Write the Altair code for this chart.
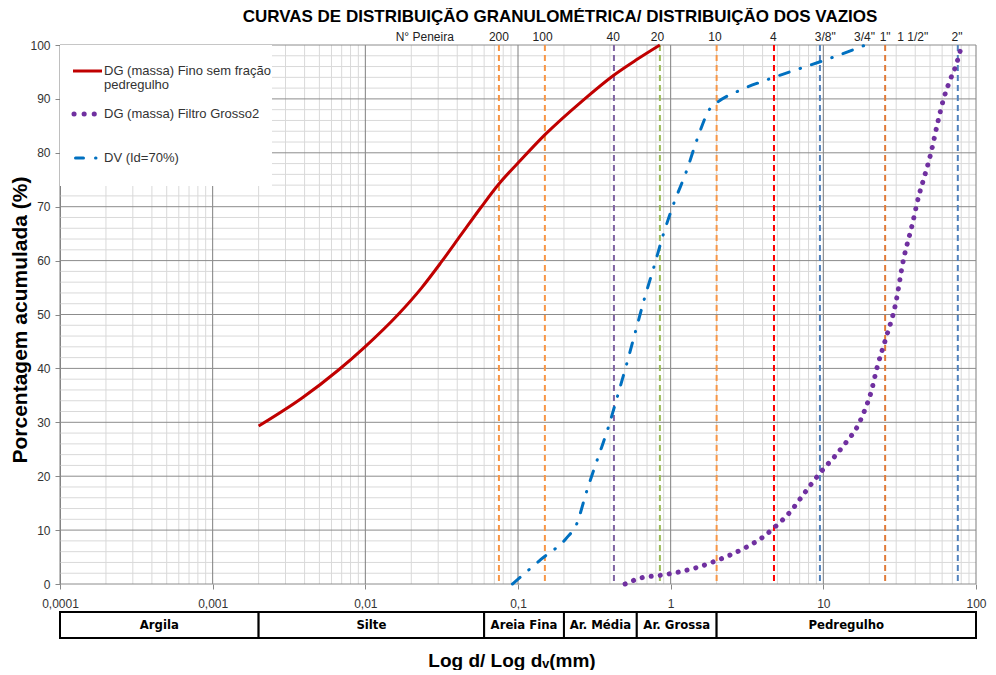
import altair as alt
import pandas as pd

# ---------------- data ----------------
red_d = [0.002, 0.00385, 0.00667, 0.00995, 0.0164, 0.0233, 0.0314, 0.0424, 0.0573,
         0.0754, 0.1, 0.152, 0.263, 0.424, 0.6, 0.85]
red_p = [29.3, 34.5, 39.7, 44.0, 50.0, 54.9, 59.7, 64.8, 69.9,
         74.3, 78.1, 83.5, 89.6, 94.4, 97.3, 100]

blue_d = [0.092, 0.142, 0.209, 0.242, 0.281, 0.330, 0.389, 0.449, 0.516, 0.589, 0.674,
          0.778, 0.896, 1.051, 1.27, 1.49, 1.8, 2.05, 2.79, 4.43, 7.13, 11.5, 18.9]
blue_p = [0, 4.6, 8.6, 11.1, 17.1, 23.0, 28.9, 34.9, 40.9, 46.9, 53.0,
          58.9, 64.9, 70.7, 76.6, 82.5, 88.1, 89.5, 91.5, 93.7, 95.7, 97.7, 100]

purple_d = [0.503, 0.654, 0.852, 1.12, 1.46, 1.90, 2.46, 3.16, 4.02, 4.91, 5.99, 7.10,
            8.42, 10.0, 11.9, 14.2, 16.7, 18.7, 20.5, 22.6, 25.5, 29.7, 33.4, 38.4,
            42.1, 45.4, 50.7, 55.5, 61.2, 67.0, 74.1, 80.7]
purple_p = [0, 1.2, 1.6, 2.2, 3.0, 4.1, 5.4, 6.9, 8.7, 10.8, 13.2, 15.9,
            18.7, 21.3, 23.7, 26.4, 29.2, 32.3, 35.5, 40.4, 45.3, 51.9, 60.0, 66.9,
            71.9, 75.1, 80.0, 85.0, 89.9, 93.2, 96.3, 100]

sieve_line_mm = [0.075, 0.15, 0.425, 0.85, 2.0, 4.75, 9.5, 25.4, 76]
sieve_line_color = ["#F79646", "#F79646", "#8064A2", "#9BBB59", "#F79646",
                    "#FF0000", "#4F81BD", "#E07B39", "#4F81BD"]

sieve_label_text = ["N° Peneira", "200", "100", "40", "20", "10", "4",
                    '3/8"', '3/4"', '1"', '1 1/2"', '2"']
sieve_label_mm = [0.0245, 0.075, 0.145, 0.42, 0.82, 1.95, 4.7,
                  10.3, 18.6, 25.4, 38.5, 75]

class_names = ["Argila", "Silte", "Areia Fina", "Ar. Média", "Ar. Grossa", "Pedregulho"]
class_lo = [0.0001, 0.002, 0.06, 0.2, 0.6, 2.0]
class_hi = [0.002, 0.06, 0.2, 0.6, 2.0, 100]

x_major = [0.0001, 0.001, 0.01, 0.1, 1, 10, 100]
x_minor = [m * d for d in x_major[:-1] for m in range(2, 10)]
y_major = list(range(0, 101, 10))
y_minor = [v for v in range(0, 101, 2) if v % 10]

legend_labels = ["DG (massa) Fino sem fração", "pedregulho",
                 "DG (massa) Filtro Grosso2", "DV (Id=70%)"]
title_text = "CURVAS DE DISTRIBUIÇÃO GRANULOMÉTRICA/ DISTRIBUIÇÃO DOS VAZIOS"
ytitle_text = "Porcentagem acumulada (%)"
xtitle_text = "Log d/ Log dᵥ(mm)"

# ---------------- helpers ----------------
FONT = "Liberation Sans, Arial, sans-serif"
NARROW = "Liberation Sans Narrow, Arial Narrow, DejaVu Sans Condensed, sans-serif"
W, H = 916, 539
xs = alt.Scale(type="log", domain=[0.0001, 100], nice=False)
ys = alt.Scale(domain=[0, 100], nice=False)

AX = alt.Axis(values=x_major, grid=False, domain=False, tickSize=5, tickColor="#888",
              labelExpr="replace(toString(datum.value), '.', ',')", labelFlush=False,
              labelFont=FONT, labelFontSize=12, labelColor="#333", labelPadding=9, title=None)
AY = alt.Axis(values=y_major, grid=False, domain=True, domainColor="#888", tickSize=5,
              tickColor="#888", labelFont=FONT, labelFontSize=12, labelColor="#333",
              labelPadding=5, title=None)


def X(f):
    return alt.X(f, scale=xs, axis=AX)


def Y(f):
    return alt.Y(f, scale=ys, axis=AY)


one = pd.DataFrame({"k": [0]})

# grids
gx_minor = alt.Chart(pd.DataFrame({"d": x_minor})).mark_rule(color="#d9d9d9", strokeWidth=1).encode(
    x=X("d:Q"))
gy_minor = alt.Chart(pd.DataFrame({"p": y_minor})).mark_rule(color="#d9d9d9", strokeWidth=1).encode(
    y=Y("p:Q"))
gx_major = alt.Chart(pd.DataFrame({"d": x_major})).mark_rule(color="#7f7f7f", strokeWidth=1).encode(
    x=X("d:Q"))
gy_major = alt.Chart(pd.DataFrame({"p": y_major})).mark_rule(color="#8c8c8c", strokeWidth=1).encode(
    y=Y("p:Q"))

# sieve lines
sieves = alt.Chart(pd.DataFrame({"d": sieve_line_mm, "c": sieve_line_color})).mark_rule(
    strokeWidth=2, strokeDash=[6, 4]).encode(
    x=X("d:Q"), color=alt.Color("c:N", scale=None))

sieve_labels = alt.Chart(pd.DataFrame({"d": sieve_label_mm, "t": sieve_label_text})).mark_text(
    font=FONT, fontSize=12, color="#222", baseline="middle").encode(
    x=X("d:Q"), y=alt.value(-8), text="t:N")

# legend box
leg_box = alt.Chart(one).mark_rect(fill="white").encode(
    x=alt.value(0), x2=alt.value(212), y=alt.value(0), y2=alt.value(141))

# curves
red = alt.Chart(pd.DataFrame({"d": red_d, "p": red_p})).mark_line(
    color="#C00000", strokeWidth=3, interpolate="monotone").encode(
    x=X("d:Q"), y=Y("p:Q"))
blue = alt.Chart(pd.DataFrame({"d": blue_d, "p": blue_p})).mark_line(
    color="#0070C0", strokeWidth=3, strokeCap="round", strokeDash=[10, 11.5, 0.5, 11.5],
    interpolate="monotone").encode(
    x=X("d:Q"), y=Y("p:Q"))
purple = alt.Chart(pd.DataFrame({"d": purple_d, "p": purple_p})).mark_line(
    color="#7030A0", strokeWidth=5, strokeCap="round", strokeDash=[0.1, 9],
    interpolate="monotone").encode(
    x=X("d:Q"), y=Y("p:Q"))

# legend samples + labels
leg_red = alt.Chart(one).mark_rule(color="#C00000", strokeWidth=3).encode(
    x=alt.value(13), x2=alt.value(42), y=alt.value(26))
leg_purple = alt.Chart(one).mark_rule(color="#7030A0", strokeWidth=5, strokeCap="round",
                                      strokeDash=[0.1, 10]).encode(
    x=alt.value(14), x2=alt.value(35), y=alt.value(69))
leg_blue = alt.Chart(one).mark_rule(color="#0070C0", strokeWidth=3, strokeCap="round",
                                    strokeDash=[8, 12, 0.5, 20]).encode(
    x=alt.value(15.5), x2=alt.value(37), y=alt.value(113))
leg_texts = []
for txt, yy in zip(legend_labels, [26, 40, 69, 113]):
    leg_texts.append(alt.Chart(one).mark_text(
        font=FONT, fontSize=13, color="#333", align="left", baseline="middle").encode(
        x=alt.value(44), y=alt.value(yy), text=alt.value(txt)))

# classification band
band_df = pd.DataFrame({"n": class_names, "lo": class_lo, "hi": class_hi})
band_rect = alt.Chart(band_df).mark_rect(fill="white", stroke="black", strokeWidth=2).encode(
    x=X("lo:Q"), x2="hi:Q", y=alt.value(567), y2=alt.value(593))
band_text = alt.Chart(band_df).transform_calculate(m="sqrt(datum.lo*datum.hi)").mark_text(
    font=NARROW, fontSize=13, fontWeight="bold", color="black", baseline="middle").encode(
    x=X("m:Q"), y=alt.value(580), text="n:N")

# titles
title = alt.Chart(one).mark_text(font=FONT, fontSize=17, fontWeight="bold", color="black",
                                 baseline="middle").encode(
    x=alt.value(500), y=alt.value(-28), text=alt.value(title_text))
ytitle = alt.Chart(one).mark_text(font=FONT, fontSize=21, fontWeight="bold", color="black",
                                  baseline="middle", angle=270).encode(
    x=alt.value(-39), y=alt.value(275), text=alt.value(ytitle_text))
xtitle = alt.Chart(one).mark_text(font=FONT, fontSize=19, fontWeight="bold", color="black",
                                  baseline="middle").encode(
    x=alt.value(452), y=alt.value(616), text=alt.value(xtitle_text))

chart = alt.layer(
    gx_minor, gy_minor, gx_major, gy_major, sieves, leg_box,
    red, blue, purple, leg_red, leg_purple, leg_blue, *leg_texts,
    sieve_labels, band_rect, band_text, title, ytitle, xtitle
).properties(
    width=W, height=H, autosize="none",
    padding={"left": 52, "top": 37, "right": 12, "bottom": 86},
    background="white"
).configure_view(stroke=None)

chart.save("out.html", embed_options={"renderer": "svg", "actions": False})
